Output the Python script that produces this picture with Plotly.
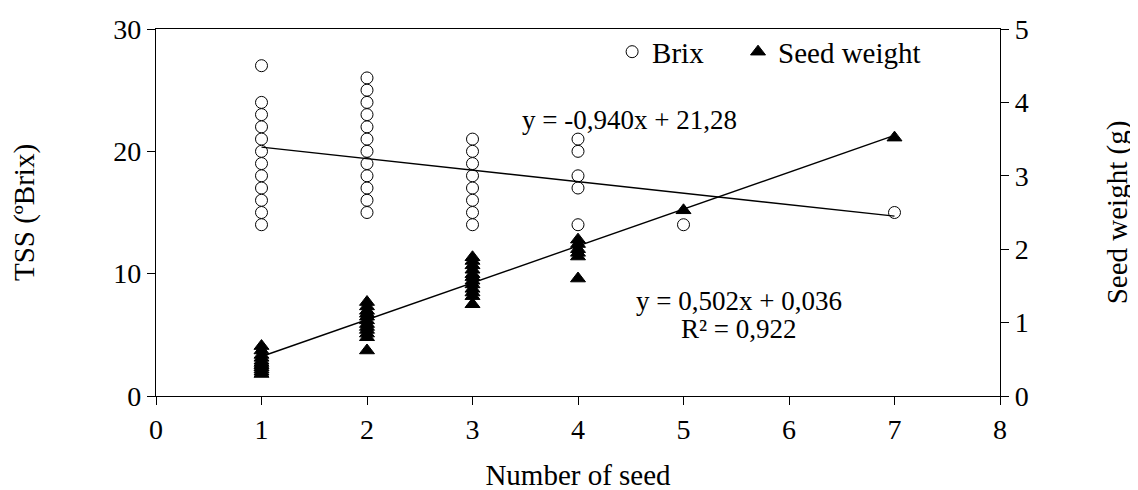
import plotly.graph_objects as go

# ---- data ----
brix_x = [1]*12 + [2]*12 + [3]*8 + [4]*5 + [5] + [7]
brix_y = [27, 24, 23, 22, 21, 20, 19, 18, 17, 16, 15, 14,
          26, 25, 24, 23, 22, 21, 20, 19, 18, 17, 16, 15,
          21, 20, 19, 18, 17, 16, 15, 14,
          21, 20, 18, 17, 14,
          14,
          15]

seed_x = [1]*11 + [2]*12 + [3]*12 + [4]*6 + [5] + [7]
seed_y = [0.68, 0.62, 0.56, 0.52, 0.48, 0.45, 0.42, 0.39, 0.36, 0.33, 0.30,
          1.28, 1.22, 1.16, 1.12, 1.08, 1.03, 0.98, 0.94, 0.90, 0.85, 0.80, 0.62,
          1.89, 1.84, 1.78, 1.72, 1.66, 1.62, 1.57, 1.52, 1.46, 1.41, 1.36, 1.25,
          2.13, 2.07, 2.00, 1.95, 1.90, 1.60,
          2.53,
          3.52]

# trendline coefficients (as printed on the chart)
brix_slope, brix_icpt = -0.940, 21.28
seed_slope, seed_icpt = 0.502, 0.036
trend_x = [1, 7]

eq_brix = "y = -0,940x + 21,28"
eq_seed = "y = 0,502x + 0,036"
eq_r2 = "R² = 0,922"

FONT = "Liberation Serif"
FS_TICK = 28
FS_TITLE = 29
FS_LEG = 29
FS_ANN = 27

fig = go.Figure()

fig.add_trace(go.Scatter(
    x=brix_x, y=brix_y, mode="markers", name="Brix",
    marker=dict(symbol="circle", size=12, color="white",
                line=dict(color="black", width=1)),
    yaxis="y", legend="legend"))

fig.add_trace(go.Scatter(
    x=seed_x, y=seed_y, mode="markers", name="Seed weight",
    marker=dict(symbol="triangle-up", size=13, color="black",
                line=dict(color="black", width=1)),
    yaxis="y2", legend="legend2"))

fig.add_trace(go.Scatter(
    x=trend_x, y=[brix_slope * v + brix_icpt for v in trend_x],
    mode="lines", line=dict(color="black", width=1.4),
    showlegend=False, yaxis="y"))

fig.add_trace(go.Scatter(
    x=trend_x, y=[seed_slope * v + seed_icpt for v in trend_x],
    mode="lines", line=dict(color="black", width=1.4),
    showlegend=False, yaxis="y2"))

axis_common = dict(showgrid=False, zeroline=False, showline=True,
                   linecolor="black", linewidth=1.3, ticks="outside",
                   ticklen=8, tickwidth=1.3, tickcolor="black",
                   tickfont=dict(family=FONT, size=FS_TICK, color="black"))

legend_common = dict(orientation="h", xanchor="left", yanchor="middle",
                     bgcolor="rgba(0,0,0,0)",
                     font=dict(family=FONT, size=FS_LEG, color="black"))

fig.update_layout(
    width=1138, height=490,
    margin=dict(l=147.5, r=146.3, t=20.5, b=101.5, autoexpand=False),
    paper_bgcolor="white", plot_bgcolor="white",
    font=dict(family=FONT, size=FS_TICK, color="black"),
    xaxis=dict(range=[0, 8], dtick=1, mirror=True,
               title=dict(text="Number of seed", standoff=20,
                          font=dict(family=FONT, size=FS_TITLE)),
               **axis_common),
    yaxis=dict(range=[0, 30], dtick=10,
               title=dict(text="TSS (ºBrix)", standoff=76,
                          font=dict(family=FONT, size=FS_TITLE)),
               **axis_common),
    yaxis2=dict(range=[0, 5], dtick=1, overlaying="y", side="right",
                title=dict(text="Seed weight (g)", standoff=78,
                           font=dict(family=FONT, size=FS_TITLE)),
                **axis_common),
    legend=dict(x=0.5404, y=0.9378, **legend_common),
    legend2=dict(x=0.6896, y=0.9378, **legend_common),
    showlegend=True,
)

fig.add_annotation(x=4.487, y=22.56, xref="x", yref="y", text=eq_brix,
                   showarrow=False, font=dict(family=FONT, size=FS_ANN))
fig.add_annotation(x=5.53, y=7.76, xref="x", yref="y", text=eq_seed,
                   showarrow=False, font=dict(family=FONT, size=FS_ANN))
fig.add_annotation(x=5.53, y=5.44, xref="x", yref="y", text=eq_r2,
                   showarrow=False, font=dict(family=FONT, size=FS_ANN))

fig.write_html("out.html")
